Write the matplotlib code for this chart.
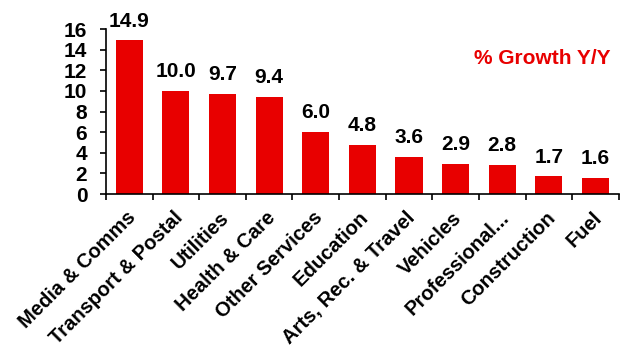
import matplotlib
matplotlib.use("Agg")
import matplotlib.pyplot as plt
import matplotlib.transforms as mtransforms
import numpy as np

categories = ["Media & Comms", "Transport & Postal", "Utilities", "Health & Care",
              "Other Services", "Education", "Arts, Rec. & Travel", "Vehicles",
              "Professional...", "Construction", "Fuel"]
growth = [14.9, 10.0, 9.7, 9.4, 6.0, 4.8, 3.6, 2.9, 2.8, 1.7, 1.6]
y_ticks = [0, 2, 4, 6, 8, 10, 12, 14, 16]

plt.rcParams["font.family"] = ["Liberation Sans", "DejaVu Sans"]
plt.rcParams["font.weight"] = "bold"

fig = plt.figure(figsize=(6.2, 3.56), dpi=100)
ax = fig.add_axes([0.171, 0.455, 0.827, 0.4635])

x = np.arange(len(categories))
ax.bar(x, growth, width=0.58, color="#e80000", zorder=2)

for xi, v in zip(x, growth):
    ax.annotate(f"{v:.1f}", (xi, v), xytext=(0, 7), textcoords="offset points",
                ha="center", va="bottom", fontsize=15, fontweight="bold")

ax.set_xlim(-0.5, len(categories) - 0.5)
ax.set_ylim(0, 16)
ax.set_yticks(y_ticks)
ax.tick_params(axis="y", labelsize=15, length=4.5, width=1.2, direction="out", pad=9)

# category boundaries get the tick marks, labels sit under the bar centres
ax.set_xticks(x)
ax.set_xticklabels([])
ax.tick_params(axis="x", which="major", length=0)
ax.set_xticks(np.arange(-0.5, len(categories)), minor=True)
ax.tick_params(axis="x", which="minor", length=4.5, width=1.2, direction="out")

offset = mtransforms.ScaledTranslation(2.5 / 72, -15 / 72, fig.dpi_scale_trans)
for xi, name in zip(x, categories):
    ax.text(xi, 0, name, transform=ax.get_xaxis_transform() + offset,
            rotation=45, rotation_mode="anchor", ha="right", va="center",
            fontsize=14.5, fontweight="bold")

for side in ["top", "right"]:
    ax.spines[side].set_visible(False)
for side in ["left", "bottom"]:
    ax.spines[side].set_linewidth(1.2)

ax.text(0.985, 0.82, "% Growth Y/Y", transform=ax.transAxes, ha="right", va="center",
        color="#e80000", fontsize=15, fontweight="bold")

fig.savefig("out.png", dpi=100)
